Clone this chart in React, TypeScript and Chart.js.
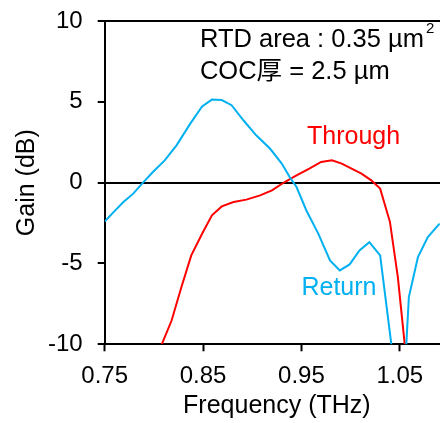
import React, { useEffect, useRef } from "react";
import { Chart, registerables } from "chart.js";

Chart.register(...registerables);

// Return (S11) curve
const returnFreq = [
  0.75, 0.759, 0.769, 0.779, 0.788, 0.799, 0.811, 0.823, 0.837, 0.849, 0.859,
  0.869, 0.879, 0.891, 0.904, 0.918, 0.93, 0.938, 0.945, 0.955, 0.967, 0.979,
  0.989, 0.999, 1.009, 1.019, 1.03, 1.0414, 1.049, 1.0566, 1.0592, 1.0684,
  1.0785, 1.0904,
];
const returnGain = [
  -2.4, -1.82, -1.2, -0.68, -0.06, 0.66, 1.38, 2.31, 3.65, 4.72, 5.14, 5.11,
  4.79, 3.86, 2.93, 2.11, 1.18, 0.35, -0.27, -1.72, -3.14, -4.81, -5.43, -5.06,
  -4.19, -3.68, -4.5, -10.0, -14.0, -10.0, -7.08, -4.61, -3.37, -2.54,
];

// Through (S21) curve
const throughFreq = [
  0.808, 0.818, 0.828, 0.838, 0.849, 0.859, 0.869, 0.881, 0.894, 0.908, 0.92,
  0.933, 0.945, 0.958, 0.97, 0.981, 0.991, 1.001, 1.011, 1.021, 1.03, 1.04,
  1.048, 1.055,
];
const throughGain = [
  -10.0, -8.53, -6.46, -4.5, -3.16, -2.02, -1.47, -1.2, -1.05, -0.79, -0.48,
  0.04, 0.45, 0.87, 1.28, 1.38, 1.18, 0.87, 0.56, 0.14, -0.37, -2.44, -5.85,
  -10.0,
];

const xTickValues = [0.75, 0.85, 0.95, 1.05];
const xRange = [0.75, 1.1];
const yRange = [-10, 10];
const yLines = [0, 10];

const labelReturn = "Return";
const labelThrough = "Through";
const noteLine1 = "RTD area : 0.35 µm";
const noteSup = "2";
const noteLine2 = "COC厚 = 2.5 µm";

const FONT = '"Liberation Sans", Arial, "Noto Sans CJK JP", sans-serif';
const BLUE = "#00B0F0";
const RED = "#FF0000";

const annotationPlugin = {
  id: "annotations",
  afterDatasetsDraw(chart: any) {
    const { ctx, scales } = chart;
    const x = scales.x;
    const y = scales.y;
    ctx.save();
    ctx.textAlign = "left";
    ctx.textBaseline = "alphabetic";
    ctx.fillStyle = "#000";
    ctx.font = `25.5px ${FONT}`;
    const nx = x.getPixelForValue(0.8468);
    const ny1 = y.getPixelForValue(8.4);
    ctx.fillText(noteLine1, nx, ny1);
    const w = ctx.measureText(noteLine1).width;
    ctx.font = `15px ${FONT}`;
    ctx.fillText(noteSup, nx + w + 2, ny1 - 14);
    ctx.font = `25.5px ${FONT}`;
    ctx.fillText(noteLine2, nx, y.getPixelForValue(6.44));
    ctx.font = `25px ${FONT}`;
    ctx.fillStyle = RED;
    ctx.fillText(labelThrough, x.getPixelForValue(0.9557), y.getPixelForValue(2.41));
    ctx.fillStyle = BLUE;
    ctx.fillText(labelReturn, x.getPixelForValue(0.95), y.getPixelForValue(-6.98));
    ctx.restore();
  },
};

export default function App() {
  const ref = useRef<HTMLCanvasElement | null>(null);

  useEffect(() => {
    if (!ref.current) return;
    const chart = new Chart(ref.current, {
      type: "line",
      data: {
        datasets: [
          {
            label: labelReturn,
            data: returnFreq.map((f, i) => ({ x: f, y: returnGain[i] })),
            borderColor: BLUE,
            borderWidth: 2,
            pointRadius: 0,
            tension: 0,
            fill: false,
          },
          {
            label: labelThrough,
            data: throughFreq.map((f, i) => ({ x: f, y: throughGain[i] })),
            borderColor: RED,
            borderWidth: 2,
            pointRadius: 0,
            tension: 0,
            fill: false,
          },
        ],
      },
      options: {
        responsive: false,
        animation: false,
        layout: { padding: { top: 21, right: 1, left: 0, bottom: 0 } },
        plugins: {
          legend: { display: false },
          tooltip: { enabled: false },
        },
        scales: {
          x: {
            type: "linear",
            min: xRange[0],
            max: xRange[1],
            afterBuildTicks: (scale: any) => {
              scale.ticks = xTickValues.map((v) => ({ value: v }));
            },
            afterFit: (scale: any) => {
              scale.height = 78.7;
              scale.paddingLeft = 0;
              scale.paddingRight = 0;
            },
            ticks: {
              color: "#000",
              font: { family: FONT, size: 24 },
              padding: 11,
              maxRotation: 0,
              callback: (v: any) => Number(v).toFixed(2),
            },
            grid: {
              drawOnChartArea: false,
              drawTicks: true,
              tickLength: 7,
              tickColor: "#000",
              tickWidth: 2,
            },
            border: { display: true, color: "#000", width: 2 },
            title: {
              display: true,
              text: "Frequency (THz)",
              color: "#000",
              font: { family: FONT, size: 25 },
              padding: { top: 3, bottom: 2 },
            },
          },
          y: {
            type: "linear",
            min: yRange[0],
            max: yRange[1],
            afterFit: (scale: any) => {
              scale.width = 104.7;
              scale.paddingTop = 0;
              scale.paddingBottom = 0;
            },
            ticks: {
              stepSize: 5,
              color: "#000",
              font: { family: FONT, size: 24 },
              padding: 15,
            },
            grid: {
              drawTicks: true,
              tickLength: 7,
              tickColor: "#000",
              tickWidth: 2,
              lineWidth: 2,
              color: (c: any) =>
                c.tick && yLines.includes(c.tick.value) ? "#000" : "rgba(0,0,0,0)",
            },
            border: { display: true, color: "#000", width: 2 },
            title: {
              display: true,
              text: "Gain (dB)",
              color: "#000",
              font: { family: FONT, size: 25 },
              padding: { top: 12, bottom: 6 },
            },
          },
        },
      },
      plugins: [annotationPlugin],
    } as any);
    return () => chart.destroy();
  }, []);

  return (
    <div
      style={{
        position: "fixed",
        left: 0,
        top: 0,
        width: 440,
        height: 423,
        overflow: "hidden",
        background: "#fff",
      }}
    >
      <canvas ref={ref} width={450} height={423} style={{ display: "block" }} />
    </div>
  );
}
